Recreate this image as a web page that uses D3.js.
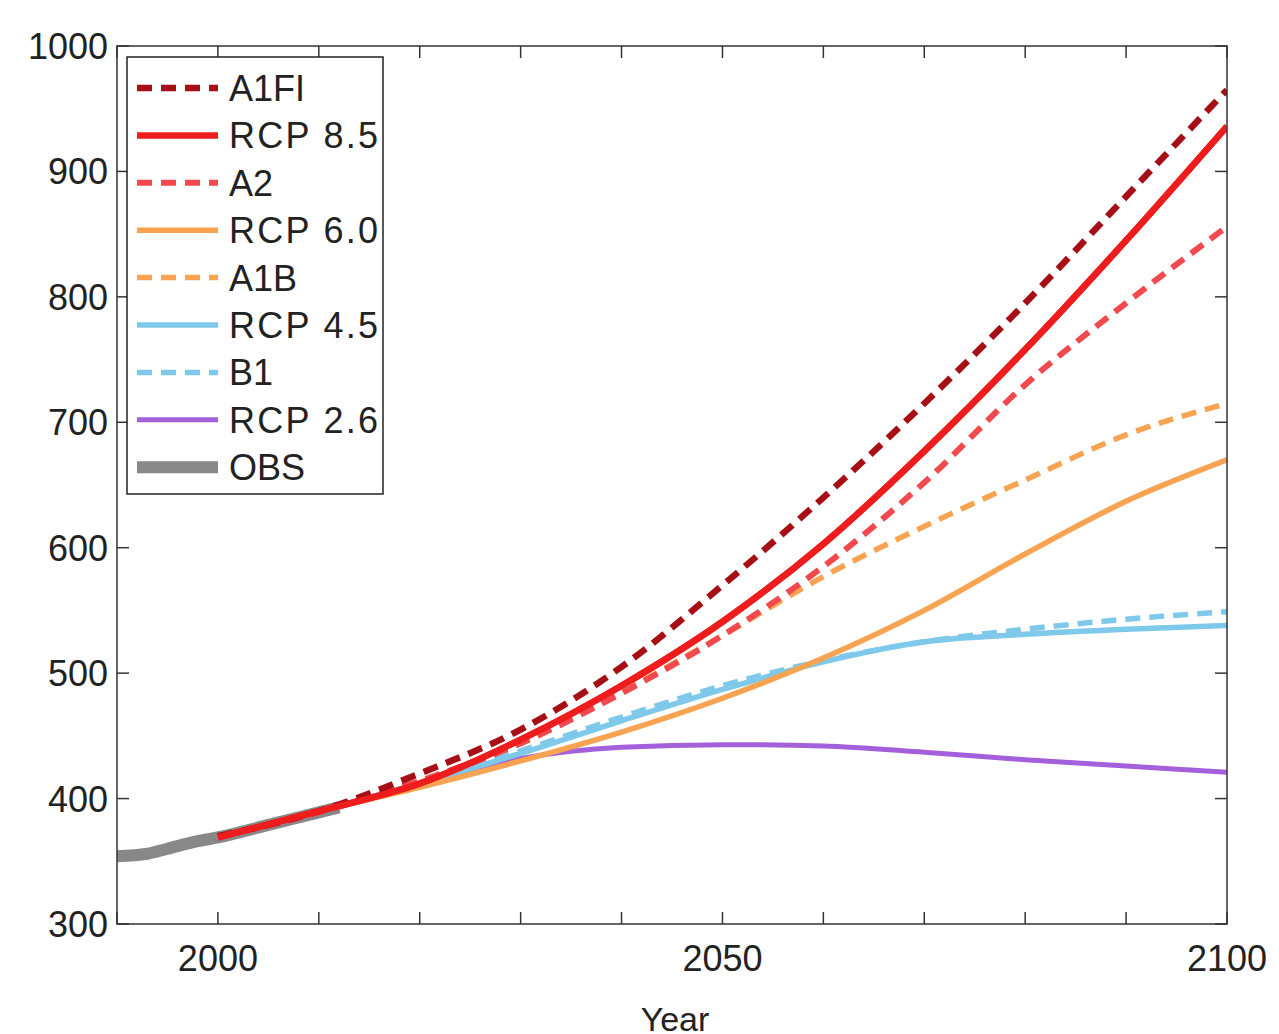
<!DOCTYPE html><html><head><meta charset="utf-8"><script src="https://cdn.jsdelivr.net/npm/d3@7"></script>
<style>body{margin:0;background:#fff}text{font-family:"Liberation Sans",Arial,sans-serif}</style></head><body><svg id="c" width="1279" height="1034"></svg>
<script>
const years=[2000,2010,2020,2030,2040,2050,2060,2070,2080,2090,2100];
const A1FI=[370,390,420,455,505,570,640,715,795,880,965];
const RCP85=[369,390,412,447,490,541,603,677,758,845,936];
const A2=[369,389,414,444,484,530,585,652,730,795,856];
const RCP60=[369,390,409,430,453,480,512,550,595,637,670];
const A1B=[369,390,414,445,485,530,577,617,654,690,715];
const RCP45=[369,390,412,436,462,487,509,525,531,535,538];
const B1=[369,390,413,438,465,490,510,525,535,543,549];
const RCP26=[369,390,412,432,441,443,442,437,431,426,421];
const obsYears=[1990,1993,1995,1998,2000,2005,2010,2012];
const OBS=[354,356,360,366,369,379,389,393];
const series=[
 {name:"A1FI",vals:A1FI,color:"#a50f15",dash:"15,9",w:6.5},
 {name:"RCP 8.5",vals:RCP85,color:"#ee1c1c",dash:null,w:6.5},
 {name:"A2",vals:A2,color:"#f2494f",dash:"15,9",w:6},
 {name:"RCP 6.0",vals:RCP60,color:"#f7a351",dash:null,w:5.5},
 {name:"A1B",vals:A1B,color:"#f7a351",dash:"15,9",w:5.5},
 {name:"RCP 4.5",vals:RCP45,color:"#7ec8ea",dash:null,w:5.5},
 {name:"B1",vals:B1,color:"#7ec8ea",dash:"15,9",w:5.5},
 {name:"RCP 2.6",vals:RCP26,color:"#a45fdb",dash:null,w:5}];
const svg=d3.select("#c");
const x=d3.scaleLinear().domain([1990,2100]).range([117,1227]);
const y=d3.scaleLinear().domain([300,1000]).range([924,46]);
svg.append("clipPath").attr("id","cp").append("rect").attr("x",117).attr("y",46).attr("width",1110).attr("height",878);
const g=svg.append("g").attr("clip-path","url(#cp)");
const line=d3.line().x(d=>x(d[0])).y(d=>y(d[1])).curve(d3.curveMonotoneX);
g.append("path").attr("d",line(obsYears.map((t,i)=>[t,OBS[i]]))).attr("fill","none").attr("stroke","#888").attr("stroke-width",12);
[...series].reverse().forEach(s=>{
 g.append("path").attr("d",line(years.map((t,i)=>[t,s.vals[i]]))).attr("fill","none").attr("stroke",s.color).attr("stroke-width",s.w).attr("stroke-dasharray",s.dash);
});
const r=series[1];
g.append("path").attr("d",line(years.map((t,i)=>[t,r.vals[i]]))).attr("fill","none").attr("stroke",r.color).attr("stroke-width",r.w);
svg.append("rect").attr("x",117).attr("y",46).attr("width",1110).attr("height",878).attr("fill","none").attr("stroke","#333").attr("stroke-width",1.5);
const xt=d3.range(1990,2101,10), yt=d3.range(300,1001,100);
xt.forEach(t=>{svg.append("line").attr("x1",x(t)).attr("x2",x(t)).attr("y1",924).attr("y2",912).attr("stroke","#333").attr("stroke-width",1.5);
 svg.append("line").attr("x1",x(t)).attr("x2",x(t)).attr("y1",46).attr("y2",58).attr("stroke","#333").attr("stroke-width",1.5);});
yt.forEach(t=>{svg.append("line").attr("x1",117).attr("x2",129).attr("y1",y(t)).attr("y2",y(t)).attr("stroke","#333").attr("stroke-width",1.5);
 svg.append("line").attr("x1",1227).attr("x2",1215).attr("y1",y(t)).attr("y2",y(t)).attr("stroke","#333").attr("stroke-width",1.5);
 svg.append("text").attr("x",108).attr("y",y(t)+13).attr("text-anchor","end").attr("font-size",36).attr("fill","#222").text(t);});
[2000,2050,2100].forEach(t=>svg.append("text").attr("x",x(t)).attr("y",971).attr("text-anchor","middle").attr("font-size",36).attr("fill","#222").text(t));
svg.append("text").attr("x",675).attr("y",1031).attr("text-anchor","middle").attr("font-size",34).attr("fill","#222").text("Year");
svg.append("text").attr("transform","translate(-8,485) rotate(-90)").attr("text-anchor","middle").attr("font-size",34).attr("fill","#222").text("CO₂ concentration (ppm)");
const lg=svg.append("g");
lg.append("rect").attr("x",127).attr("y",57).attr("width",256).attr("height",437).attr("fill","#fff").attr("stroke","#222").attr("stroke-width",1.5);
const items=[...series,{name:"OBS",color:"#888",dash:null,w:12}];
items.forEach((s,i)=>{const yy=88+i*47.4;
 lg.append("line").attr("x1",137).attr("x2",218).attr("y1",yy).attr("y2",yy).attr("stroke",s.color).attr("stroke-width",s.w).attr("stroke-dasharray",s.dash);
 lg.append("text").attr("x",229).attr("y",yy+13).attr("font-size",36).attr("textLength",s.name.length>4?149:null).attr("fill","#222").text(s.name);});
</script></body></html>
